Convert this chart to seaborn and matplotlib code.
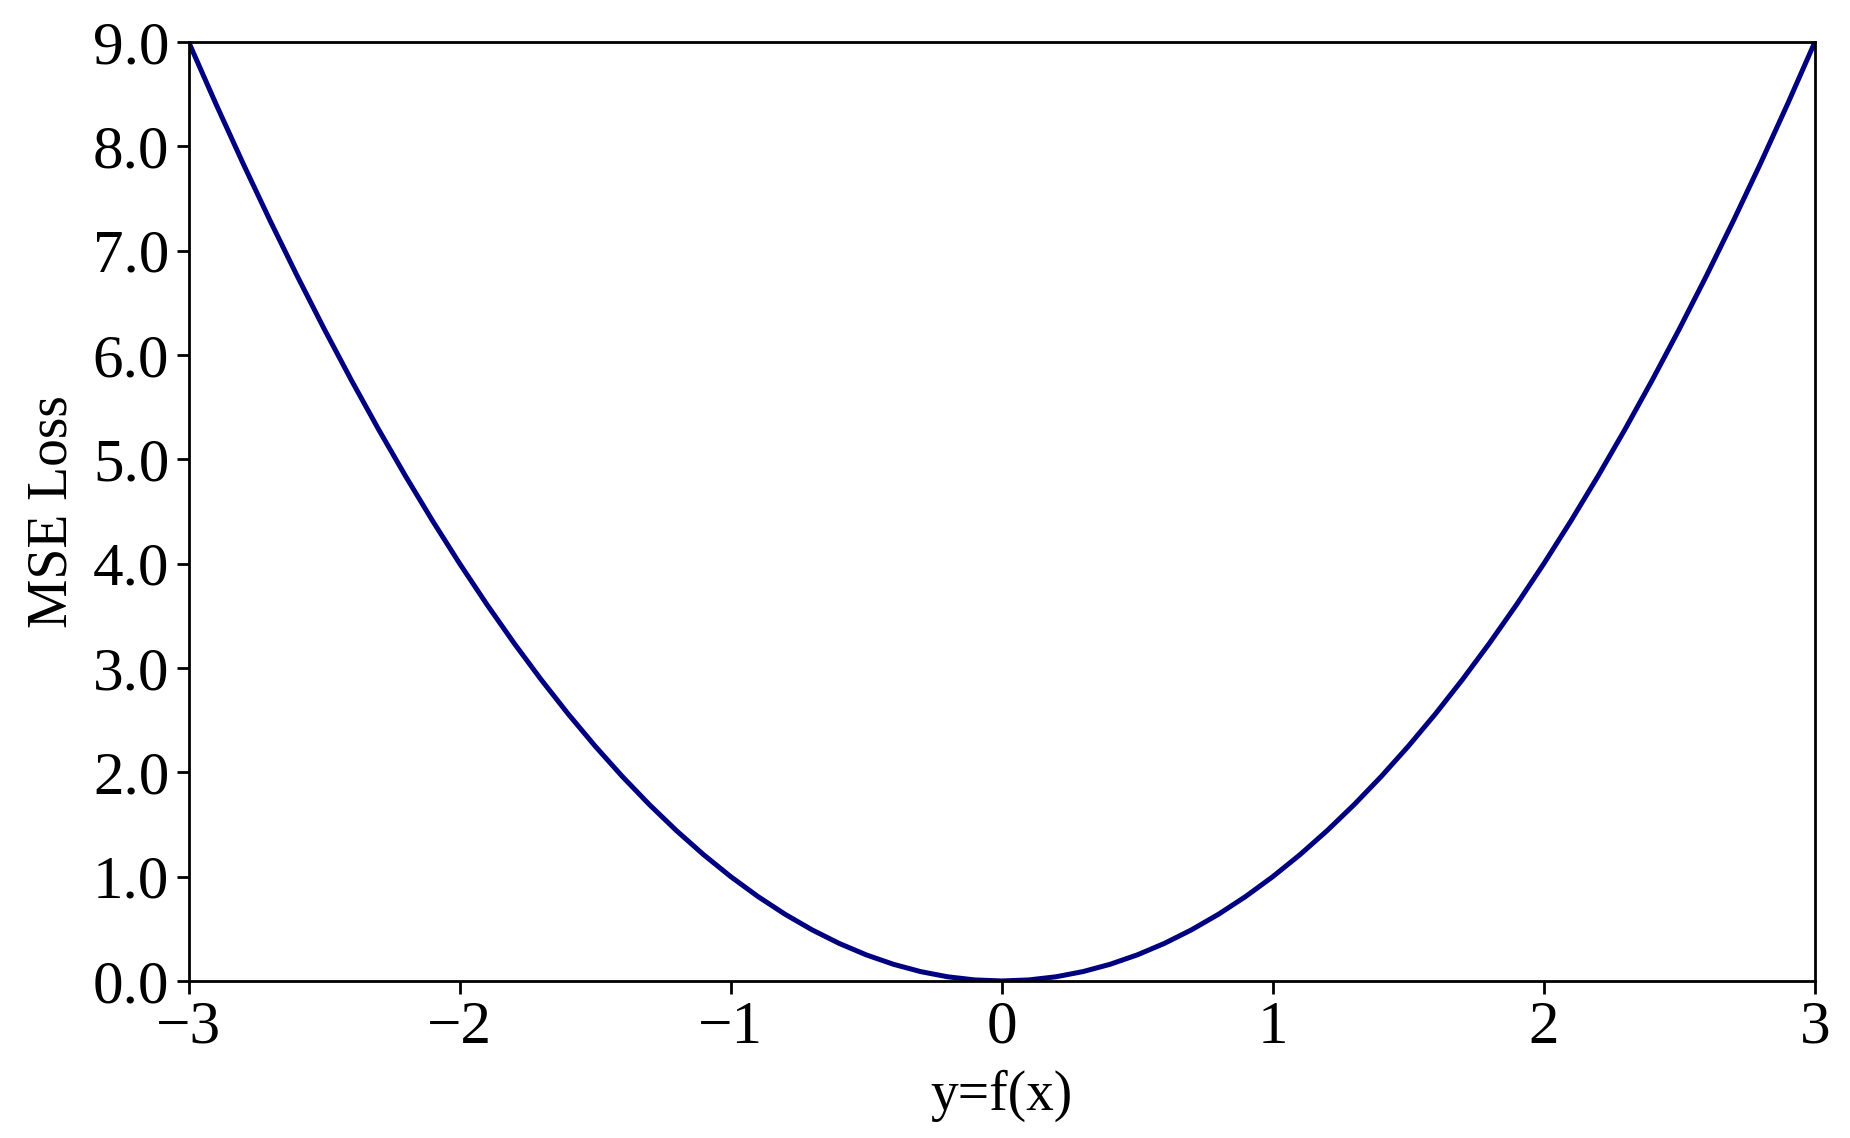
import matplotlib
matplotlib.use("Agg")
import matplotlib.pyplot as plt
import pandas as pd
import seaborn as sns
from matplotlib.ticker import FormatStrFormatter

# values
x_vals = [-3.0, -2.9, -2.8, -2.7, -2.6, -2.5, -2.4, -2.3, -2.2, -2.1,
          -2.0, -1.9, -1.8, -1.7, -1.6, -1.5, -1.4, -1.3, -1.2, -1.1,
          -1.0, -0.9, -0.8, -0.7, -0.6, -0.5, -0.4, -0.3, -0.2, -0.1,
          0.0, 0.1, 0.2, 0.3, 0.4, 0.5, 0.6, 0.7, 0.8, 0.9,
          1.0, 1.1, 1.2, 1.3, 1.4, 1.5, 1.6, 1.7, 1.8, 1.9,
          2.0, 2.1, 2.2, 2.3, 2.4, 2.5, 2.6, 2.7, 2.8, 2.9, 3.0]
loss_vals = [9.0, 8.41, 7.84, 7.29, 6.76, 6.25, 5.76, 5.29, 4.84, 4.41,
             4.0, 3.61, 3.24, 2.89, 2.56, 2.25, 1.96, 1.69, 1.44, 1.21,
             1.0, 0.81, 0.64, 0.49, 0.36, 0.25, 0.16, 0.09, 0.04, 0.01,
             0.0, 0.01, 0.04, 0.09, 0.16, 0.25, 0.36, 0.49, 0.64, 0.81,
             1.0, 1.21, 1.44, 1.69, 1.96, 2.25, 2.56, 2.89, 3.24, 3.61,
             4.0, 4.41, 4.84, 5.29, 5.76, 6.25, 6.76, 7.29, 7.84, 8.41, 9.0]
x_ticks = [-3, -2, -1, 0, 1, 2, 3]
y_ticks = [0, 1, 2, 3, 4, 5, 6, 7, 8, 9]

df = pd.DataFrame({'x': x_vals, 'loss': loss_vals})

sns.set_style('ticks')
plt.rcParams['font.family'] = ['Liberation Serif', 'DejaVu Serif']
plt.rcParams['text.color'] = 'black'
plt.rcParams['axes.labelcolor'] = 'black'
plt.rcParams['xtick.color'] = 'black'
plt.rcParams['ytick.color'] = 'black'

fig, ax = plt.subplots(figsize=(18.5, 11.38), dpi=100)
fig.subplots_adjust(left=0.102, right=0.981, top=0.963, bottom=0.138)

sns.lineplot(data=df, x='x', y='loss', color='navy', linewidth=3.6, ax=ax)

ax.set_xlim(-3, 3)
ax.set_ylim(0, 9)
ax.set_xticks(x_ticks)
ax.set_yticks(y_ticks)
ax.yaxis.set_major_formatter(FormatStrFormatter('%.1f'))
ax.set_xlabel('y=f(x)', fontsize=40, labelpad=10)
ax.set_ylabel('MSE Loss', fontsize=40, labelpad=10)
ax.tick_params(axis='both', labelsize=44, length=9, width=2, direction='out',
               pad=5)
for side in ['top', 'right', 'bottom', 'left']:
    ax.spines[side].set_visible(True)
    ax.spines[side].set_linewidth(2)
    ax.spines[side].set_color('black')

fig.savefig('out.png')
